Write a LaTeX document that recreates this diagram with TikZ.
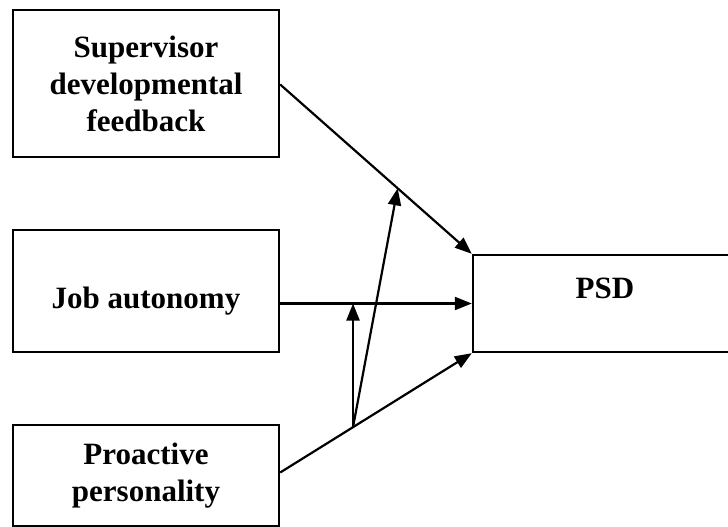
\documentclass[tikz,border=0pt]{standalone}
\usepackage{fontspec}
\setmainfont{Liberation Serif}
\usetikzlibrary{arrows.meta,calc}
\begin{document}
\begin{tikzpicture}[x=1pt,y=-1pt,
  box/.style={draw, line width=2.4pt, inner sep=0pt, align=center,
    font=\fontsize{31}{37}\selectfont\bfseries},
  label/.style={inner sep=0pt, font=\fontsize{31}{37}\selectfont\bfseries},
  link/.style={line width=2.2pt, -{Triangle[length=17pt,width=13pt]}}]
\useasboundingbox (0,0) rectangle (728,527);
\clip (0,0) rectangle (728,527);

% predictor boxes
\node[box, minimum width=266pt, minimum height=147pt] (sup) at (146,83.5)
  {Supervisor\\developmental\\feedback};
\node[box, minimum width=266pt, minimum height=122pt,
      text height=41pt, text depth=7pt] (job) at (146,291)
  {Job autonomy};
\node[box, minimum width=266pt, minimum height=101pt] (pro) at (146,475.5)
  {Proactive\\personality};

% outcome box
\node[draw, line width=2.4pt, minimum width=267pt, minimum height=97pt] (psd) at (606.5,303.5) {};
\node[label, anchor=base] (psdtext) at (605,298) {PSD};

% main effects
\coordinate (supout) at ($(sup.east)+(0,1)$);
\coordinate (proout) at ($(pro.east)+(0,-3)$);
\draw[link] (supout) -- (psd.north west);
\draw[link] (job.east |- psd.west) -- (psd.west);
\draw[link] (proout) -- (psd.south west);

% moderation paths
\coordinate (mod) at ($(proout)!0.38!(psd.south west)$);
\coordinate (supmid) at ($(supout)!0.613!(psd.north west)$);
\draw[link] (mod) -- (mod |- psd.west);
\draw[link] (mod) -- (supmid);
\end{tikzpicture}
\end{document}
